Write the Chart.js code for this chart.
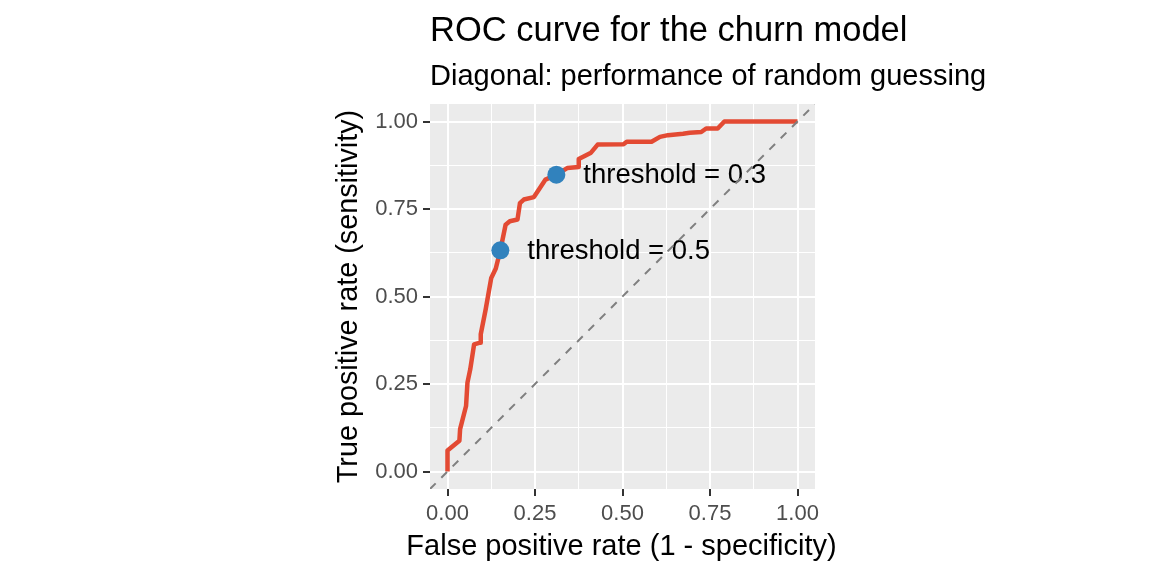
<!DOCTYPE html>
<html>
<head>
<meta charset="utf-8">
<script src="https://cdn.jsdelivr.net/npm/chart.js@4"></script>
<style>
  html, body { margin: 0; padding: 0; background: #fff; }
  #wrap { width: 1152px; height: 576px; }
</style>
</head>
<body>
<div id="wrap"><canvas id="myChart" width="1152" height="576"></canvas></div>
<script>
// ROC curve vertices
const fpr = [0, 0, 0.034, 0.036, 0.053, 0.057, 0.065, 0.076, 0.093, 0.095,
  0.109, 0.125, 0.138, 0.151, 0.166, 0.178, 0.2, 0.207, 0.218, 0.247,
  0.28, 0.311, 0.342, 0.375, 0.375, 0.41, 0.429, 0.503, 0.512, 0.583,
  0.607, 0.63, 0.673, 0.692, 0.725, 0.739, 0.772, 0.791, 1];
const tpr = [0, 0.06, 0.088, 0.121, 0.187, 0.254, 0.292, 0.363, 0.368, 0.392,
  0.463, 0.553, 0.58, 0.632, 0.705, 0.715, 0.72, 0.767, 0.777, 0.784,
  0.834, 0.848, 0.867, 0.87, 0.893, 0.911, 0.934, 0.935, 0.942, 0.942,
  0.956, 0.961, 0.965, 0.968, 0.97, 0.98, 0.98, 1, 1];

// highlighted thresholds
const thrFpr = [0.151, 0.311];
const thrTpr = [0.632, 0.848];
const thrLabels = ["threshold = 0.5", "threshold = 0.3"];

// random guessing line
const diagX = [-0.05, 1.05];

const titleText = "ROC curve for the churn model";
const subtitleText = "Diagonal: performance of random guessing";
const xTitle = "False positive rate (1 - specificity)";
const yTitle = "True positive rate (sensitivity)";

const FONT = "'Liberation Sans', Arial, sans-serif";

const isMajor = (v) => Math.abs(v * 4 - Math.round(v * 4)) < 1e-6;

const panelBg = {
  id: "panelBg",
  beforeDraw(chart) {
    const { ctx, chartArea: a } = chart;
    ctx.save();
    ctx.fillStyle = "#EBEBEB";
    ctx.fillRect(a.left, a.top, a.right - a.left, a.bottom - a.top);
    ctx.restore();
  },
};

// title, subtitle and x title (the x title is wider than the panel,
// chart.js would squeeze it)
const titles = {
  id: "titles",
  afterDraw(chart) {
    const { ctx, chartArea: a } = chart;
    ctx.save();
    ctx.fillStyle = "#000";
    ctx.textAlign = "left";
    ctx.textBaseline = "alphabetic";
    ctx.font = "34.5px " + FONT;
    ctx.fillText(titleText, a.left, 41);
    ctx.font = "29px " + FONT;
    ctx.fillText(subtitleText, a.left, 85);
    ctx.textAlign = "center";
    ctx.fillText(xTitle, (a.left + a.right) / 2 - 1, 555);
    ctx.restore();
  },
};

const thrText = {
  id: "thrText",
  beforeDatasetsDraw(chart) {
    const { ctx, scales } = chart;
    ctx.save();
    ctx.fillStyle = "#000";
    ctx.font = "27.5px " + FONT;
    ctx.textAlign = "left";
    ctx.textBaseline = "middle";
    thrLabels.forEach((t, i) => {
      const px = scales.x.getPixelForValue(thrFpr[i]);
      const py = scales.y.getPixelForValue(thrTpr[i]);
      ctx.fillText(t, px + 27, py + 1);
    });
    ctx.restore();
  },
};

const axisStyle = () => ({
  type: "linear",
  min: -0.05,
  max: 1.05,
  border: { display: false },
  grid: {
    color: "#FFFFFF",
    lineWidth: (c) => (c.tick && isMajor(c.tick.value) ? 2 : 1),
    tickColor: (c) => (c.tick && isMajor(c.tick.value) ? "#333333" : "rgba(0,0,0,0)"),
    tickLength: 7,
    tickWidth: 2,
  },
  ticks: {
    stepSize: 0.125,
    includeBounds: false,
    autoSkip: false,
    maxRotation: 0,
    padding: 5,
    color: "#4D4D4D",
    font: { family: FONT, size: 22 },
    callback: (v) => (isMajor(v) ? v.toFixed(2) : ""),
  },
});

const xAxis = axisStyle();
xAxis.afterFit = (s) => { s.height = 87; };
const yAxis = axisStyle();
yAxis.title = {
  display: true,
  text: yTitle,
  color: "#000",
  font: { family: FONT, size: 28.8 },
  padding: { top: 2, bottom: 0 },
};
yAxis.afterFit = (s) => { s.width = 100; };

const config = {
  type: "scatter",
  data: {
    datasets: [
      {
        label: "diagonal",
        data: diagX.map((v) => ({ x: v, y: v })),
        showLine: true,
        borderColor: "#7F7F7F",
        borderWidth: 2,
        borderDash: [8, 8],
        pointRadius: 0,
      },
      {
        label: "thresholds",
        data: thrFpr.map((v, i) => ({ x: v, y: thrTpr[i] })),
        showLine: false,
        pointRadius: 9,
        pointBackgroundColor: "#3182BD",
        pointBorderWidth: 0,
      },
      {
        label: "ROC",
        data: fpr.map((v, i) => ({ x: v, y: tpr[i] })),
        showLine: true,
        borderColor: "#E34A33",
        borderWidth: 4.5,
        borderJoinStyle: "round",
        pointRadius: 0,
        tension: 0,
      },
    ],
  },
  options: {
    responsive: false,
    animation: false,
    devicePixelRatio: 1,
    events: [],
    layout: { padding: { left: 330, right: 337, top: 104, bottom: 0 } },
    scales: { x: xAxis, y: yAxis },
    plugins: {
      legend: { display: false },
      tooltip: { enabled: false },
    },
  },
  plugins: [panelBg, thrText, titles],
};

const rocChart = new Chart(document.getElementById("myChart"), config);
</script>
</body>
</html>
